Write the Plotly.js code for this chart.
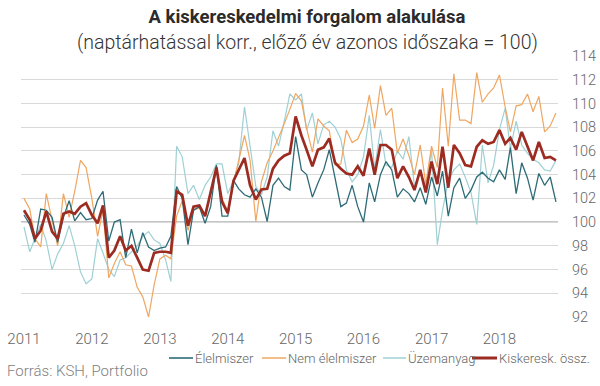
<!DOCTYPE html>
<html>
<head>
<meta charset="utf-8">
<script src="https://cdn.plot.ly/plotly-3.0.1.min.js"></script>
<style>
  html, body { margin: 0; padding: 0; background: #fff; }
  #chart { width: 600px; height: 386px; }
</style>
</head>
<body>
<div id="chart"></div>
<script>
// Monthly indices, same period of previous year = 100 (Jan 2011 - Nov 2018)
const elelmiszer = [
  100.6, 99.8, 98.3, 101.1, 101.0, 100.4, 98.3, 100.4, 101.8, 100.1, 100.8, 100.2,
  100.3, 101.85, 102.6, 98.4, 100.0, 100.2, 97.0, 99.4, 97.4, 99.1, 97.9, 97.6,
  97.8, 97.9, 98.8, 103.0, 102.0, 98.1, 101.0, 101.3, 99.9, 101.3, 104.8, 100.5,
  100.5, 103.5, 102.8, 102.3, 102.1, 102.8, 102.1, 100.05, 103.1, 103.7, 103.0, 102.7,
  107.2, 104.4, 104.0, 102.1, 103.3, 104.4, 106.1, 103.7, 101.3, 101.6, 103.1, 101.3,
  100.0, 103.3, 101.7, 104.0, 105.1, 104.4, 102.1, 102.8, 102.4, 101.7, 102.9, 101.5,
  103.8, 102.2, 104.3, 100.5, 102.9, 103.7, 102.0, 102.7, 103.8, 104.2, 103.7, 103.4,
  104.4, 103.6, 106.3, 102.4, 105.0, 103.7, 101.85, 104.1, 103.1, 103.8, 101.7
];
const nemElelmiszer = [
  102.0, 101.1, 98.6, 97.9, 102.4, 100.2, 98.0, 102.4, 100.4, 102.6, 105.2, 104.6,
  102.0, 98.8, 101.0, 95.3, 96.5, 97.5, 96.4, 96.3, 94.5, 93.7, 92.0, 94.7,
  96.9, 97.2, 96.9, 100.5, 101.8, 99.3, 101.0, 101.2, 100.6, 102.5, 104.4, 102.0,
  100.9, 103.3, 105.2, 107.3, 105.2, 100.05, 103.4, 105.0, 106.0, 107.1, 108.3, 109.5,
  110.85, 110.2, 107.9, 105.9, 108.7, 108.1, 107.7, 104.8, 104.9, 107.75, 106.7, 107.0,
  108.1, 110.7, 107.9, 111.5, 109.0, 109.6, 105.8, 107.0, 105.6, 104.0, 106.5, 103.2,
  106.4, 104.6, 111.3, 106.4, 112.5, 108.6, 108.6, 108.3, 112.6, 110.1, 110.8, 111.3,
  112.4, 109.7, 107.6, 109.8, 109.9, 110.8, 109.3, 110.6, 107.6, 108.1, 109.2
];
const uzemanyag = [
  99.6, 97.5, 98.6, 99.8, 98.4, 96.0, 97.3, 98.2, 99.7, 98.0, 95.8, 94.8,
  95.2, 98.6, 97.4, 96.0, 95.4, 96.8, 97.0, 97.5, 98.0, 98.8, 99.2, 98.5,
  98.2, 96.8, 95.0, 106.4, 105.5, 102.4, 103.1, 101.9, 103.1, 103.8, 104.9, 104.9,
  102.4, 103.5, 105.0, 109.7, 106.3, 103.0, 102.3, 103.8, 107.7, 106.4, 108.5, 110.8,
  110.3, 110.8, 107.75, 109.2, 106.6, 108.2, 108.5, 108.0, 107.0, 104.4, 103.4, 104.0,
  105.5, 109.0, 104.5, 107.8, 104.8, 104.6, 106.0, 105.3, 107.2, 103.0, 104.2, 103.0,
  106.0, 98.1, 101.0, 103.5, 104.4, 104.9, 103.8, 102.5, 99.8, 106.5, 103.3, 104.8,
  107.8, 109.6, 106.2, 108.5, 106.5, 105.8, 105.3, 105.0, 104.4, 104.3, 105.2
];
const osszesen = [
  101.0, 100.2, 98.6, 99.3, 100.9, 99.2, 98.6, 100.7, 100.9, 100.7, 101.3, 101.6,
  100.6, 99.9, 101.4, 97.0, 97.6, 98.8, 97.6, 98.0, 97.0, 96.0, 95.9, 97.4,
  97.5, 97.5, 97.4, 102.6, 102.3, 99.7, 101.3, 101.4, 100.5, 102.5, 104.6, 101.7,
  100.75, 103.5, 104.4, 105.4, 103.1, 101.9, 102.75, 102.8, 104.5, 105.2, 105.6, 105.8,
  108.9, 107.3, 106.1, 104.7, 106.1, 106.3, 107.05, 105.0, 104.5, 104.1, 104.0, 104.7,
  103.9, 106.2, 104.0, 106.5, 106.5, 106.1, 103.7, 104.7, 103.8, 102.7, 104.4, 102.5,
  105.1, 103.2, 106.35, 102.9, 106.5, 105.8, 104.8, 104.7, 106.35, 106.9, 106.6, 106.75,
  107.75, 106.6, 107.1, 106.1, 107.6, 106.4, 105.2, 106.75, 105.4, 105.5, 105.2
];
const yearLabels = ['2011', '2012', '2013', '2014', '2015', '2016', '2017', '2018'];
const baseline = 100;

// month dates for the x axis
const months = [];
for (let i = 0; i < osszesen.length; i++) {
  const y = 2011 + Math.floor(i / 12);
  const m = (i % 12) + 1;
  months.push(y + '-' + String(m).padStart(2, '0') + '-01');
}

const series = [
  { name: 'Élelmiszer', y: elelmiszer, color: '#2d6b76', width: 1.3, order: 2, lx: 169, lw: 24 },
  { name: 'Nem élelmiszer', y: nemElelmiszer, color: '#f0a660', width: 1.2, order: 1, lx: 262, lw: 24 },
  { name: 'Üzemanyag', y: uzemanyag, color: '#9fd0d4', width: 1.2, order: 0, lx: 383, lw: 23 },
  { name: 'Kiskeresk. össz.', y: osszesen, color: '#9c2b22', width: 2.7, order: 3, lx: 472, lw: 25 }
];

const traces = series.slice().sort((a, b) => a.order - b.order).map(t => ({
  type: 'scatter', mode: 'lines', name: t.name, x: months, y: t.y,
  line: { color: t.color, width: t.width }, hoverinfo: 'skip', showlegend: false
}));

// plot area geometry (pixels)
const M = { l: 21, r: 42, t: 56, b: 69 };
const W = 600, H = 386;
const pw = W - M.l - M.r, ph = H - M.t - M.b;
const px2x = px => (px - M.l) / pw;
const py2y = py => (H - M.b - py) / ph;
const legendY = 358;

const shapes = [{
  type: 'line', xref: 'paper', x0: 0, x1: 1, yref: 'y', y0: baseline, y1: baseline,
  line: { color: '#8c8c8c', width: 1.2 }, layer: 'below'
}];
const annotations = [
  {
    text: '(naptárhatással korr., előző év azonos időszaka = 100)', showarrow: false,
    xref: 'paper', x: px2x(307), xanchor: 'center',
    yref: 'paper', y: py2y(42), yanchor: 'middle',
    font: { size: 19.5, color: '#333333', weight: 300 }
  },
  {
    text: 'Forrás: KSH, Portfolio', showarrow: false,
    xref: 'paper', x: px2x(5), xanchor: 'left',
    yref: 'paper', y: py2y(371), yanchor: 'middle',
    font: { size: 15, color: '#7f7f7f', weight: 300 }
  }
];
series.forEach(s => {
  shapes.push({
    type: 'line', xref: 'paper', yref: 'paper',
    x0: px2x(s.lx), x1: px2x(s.lx + s.lw), y0: py2y(legendY), y1: py2y(legendY),
    line: { color: s.color, width: s.width + 0.3 }
  });
  annotations.push({
    text: s.name, showarrow: false,
    xref: 'paper', x: px2x(s.lx + s.lw), xanchor: 'left',
    yref: 'paper', y: py2y(legendY), yanchor: 'middle',
    font: { size: 13, color: '#666666', weight: 300 }
  });
});

const layout = {
  width: W, height: H,
  margin: { l: M.l, r: M.r, t: M.t, b: M.b, pad: 0 },
  paper_bgcolor: '#ffffff', plot_bgcolor: '#ffffff',
  font: { family: 'Roboto, sans-serif', color: '#666666' },
  title: {
    text: '<b>A kiskereskedelmi forgalom alakulása</b>',
    font: { family: 'Roboto, sans-serif', size: 18.5, color: '#2b2b2b' },
    xref: 'container', x: 307 / W, xanchor: 'center',
    yref: 'container', y: 1 - 17 / H, yanchor: 'middle'
  },
  xaxis: {
    type: 'date', range: ['2010-12-16', '2018-11-12'],
    tickvals: yearLabels.map(y => y + '-01-01'), ticktext: yearLabels,
    showgrid: false, zeroline: false, showline: false, ticks: '',
    tickfont: { size: 15, color: '#666666', weight: 300 },
    ticklabelstandoff: 11, fixedrange: true
  },
  yaxis: {
    side: 'right', range: [92, 114], tick0: 92, dtick: 2,
    showgrid: true, gridcolor: '#d9d9d9', gridwidth: 1,
    zeroline: false, showline: false, ticks: '',
    tickfont: { size: 14.5, color: '#666666', weight: 300 },
    ticklabelstandoff: 13, fixedrange: true
  },
  shapes: shapes,
  annotations: annotations,
  showlegend: false
};

Plotly.newPlot('chart', traces, layout, { staticPlot: true, displayModeBar: false });
</script>
</body>
</html>
